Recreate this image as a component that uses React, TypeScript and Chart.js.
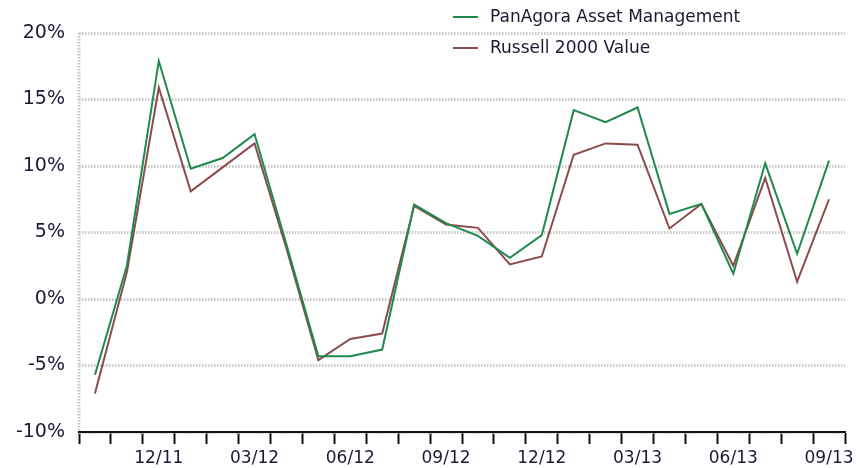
import React, { useEffect, useRef } from 'react';
import { Chart, registerables } from 'chart.js';

Chart.register(...registerables);

const months = [
  '10/11', '11/11', '12/11', '01/12', '02/12', '03/12', '04/12', '05/12',
  '06/12', '07/12', '08/12', '09/12', '10/12', '11/12', '12/12', '01/13',
  '02/13', '03/13', '04/13', '05/13', '06/13', '07/13', '08/13', '09/13',
];
const shownLabels = ['12/11', '03/12', '06/12', '09/12', '12/12', '03/13', '06/13', '09/13'];

const panagora = [
  -5.7, 2.5, 17.9, 9.8, 10.6, 12.4, 4.1, -4.3, -4.3, -3.8, 7.1, 5.7,
  4.75, 3.1, 4.8, 14.2, 13.3, 14.4, 6.4, 7.15, 1.9, 10.2, 3.4, 10.4,
];
const russell = [
  -7.1, 2.0, 15.9, 8.1, 9.9, 11.7, 3.8, -4.6, -3.0, -2.6, 7.0, 5.6,
  5.35, 2.6, 3.2, 10.85, 11.7, 11.6, 5.3, 7.15, 2.5, 9.1, 1.3, 7.5,
];
const seriesNames = ['PanAgora Asset Management', 'Russell 2000 Value'];
const seriesColors = ['#1f8a4c', '#8c4b4b'];

const yMin = -10;
const yMax = 20;
const yStep = 5;

const FONT = '"DejaVu Sans", Verdana, sans-serif';
const TEXT = '#1a1a36';

const insetLegend = {
  id: 'insetLegend',
  afterDraw(chart: any) {
    const ctx = chart.ctx;
    ctx.save();
    ctx.font = `17px ${FONT}`;
    ctx.textBaseline = 'middle';
    ctx.textAlign = 'left';
    chart.data.datasets.forEach((ds: any, i: number) => {
      const y = 17 + i * 31;
      ctx.strokeStyle = ds.borderColor;
      ctx.lineWidth = 2;
      ctx.beginPath();
      ctx.moveTo(453, y);
      ctx.lineTo(478, y);
      ctx.stroke();
      ctx.fillStyle = TEXT;
      ctx.fillText(ds.label, 490, y + 1);
    });
    ctx.restore();
  },
};

const dottedYAxis = {
  id: 'dottedYAxis',
  beforeDatasetsDraw(chart: any) {
    const { ctx, chartArea } = chart;
    ctx.save();
    ctx.strokeStyle = '#c8c8c8';
    ctx.lineWidth = 3;
    ctx.setLineDash([1.5, 1.5]);
    ctx.beginPath();
    ctx.moveTo(chartArea.left, chartArea.top);
    ctx.lineTo(chartArea.left, chartArea.bottom);
    ctx.stroke();
    ctx.restore();
  },
};

export default function App() {
  const ref = useRef<HTMLCanvasElement | null>(null);

  useEffect(() => {
    document.body.style.margin = '0';
    if (!ref.current) return;
    const chart = new Chart(ref.current, {
      type: 'line',
      data: {
        labels: months,
        datasets: [
          {
            label: seriesNames[0],
            data: panagora,
            borderColor: seriesColors[0],
            backgroundColor: seriesColors[0],
            borderWidth: 2,
            pointRadius: 0,
            tension: 0,
            fill: false,
          },
          {
            label: seriesNames[1],
            data: russell,
            borderColor: seriesColors[1],
            backgroundColor: seriesColors[1],
            borderWidth: 2,
            pointRadius: 0,
            tension: 0,
            fill: false,
          },
        ],
      },
      options: {
        animation: false,
        responsive: false,
        layout: { padding: { left: 0, right: 11, top: 33, bottom: 0 } },
        plugins: {
          legend: { display: false },
          tooltip: { enabled: false },
        },
        scales: {
          x: {
            type: 'category',
            offset: true,
            afterFit(scale: any) {
              scale.height = 36;
              scale.paddingLeft = 0;
              scale.paddingRight = 0;
            },
            grid: {
              offset: true,
              drawOnChartArea: false,
              drawTicks: true,
              tickLength: 12,
              tickColor: '#111111',
              tickWidth: 2,
            },
            border: { display: true, color: '#111111', width: 2 },
            ticks: {
              autoSkip: false,
              maxRotation: 0,
              minRotation: 0,
              padding: 4,
              color: TEXT,
              font: { family: FONT, size: 17 },
              callback(_v: any, i: number) {
                const l = months[i];
                return shownLabels.includes(l) ? l : '';
              },
            },
          },
          y: {
            min: yMin,
            max: yMax,
            afterFit(scale: any) {
              scale.width = 79;
            },
            grid: {
              color: '#c8c8c8',
              lineWidth: 3,
              drawTicks: false,
            },
            border: { display: false, dash: [1.5, 1.5] },
            ticks: {
              stepSize: yStep,
              padding: 14,
              color: TEXT,
              font: { family: FONT, size: 19 },
              callback(v: any) {
                return `${v}%`;
              },
            },
          },
        },
      },
      plugins: [dottedYAxis, insetLegend],
    });
    return () => chart.destroy();
  }, []);

  return (
    <div style={{ width: 856, height: 468 }}>
      <canvas ref={ref} width={856} height={468} />
    </div>
  );
}
